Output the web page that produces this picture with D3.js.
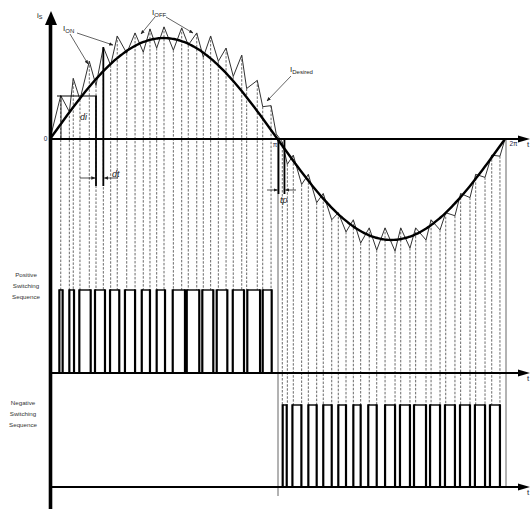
<!DOCTYPE html>
<html><head><meta charset="utf-8">
<script src="https://cdn.jsdelivr.net/npm/d3@7"></script>
<style>body{margin:0;background:#fff}svg{display:block}</style>
</head><body>
<script>
// Hysteresis current vertices: electrical angle (deg) and per-unit current
const zigAngle = [0, 8.5, 15.3, 18.4, 23.7, 31.1, 36.4, 42.2, 48.0, 53.2, 60.7, 67.3, 73.8, 79.1, 84.4, 90.2,
  97.6, 104.2, 109.4, 116.1, 121.3, 127.1, 133.2, 139.3, 145.0, 151.7, 155.6, 164.0, 168.3, 174.9, 179.0,
  183.8, 187.8, 192.5, 199.1, 204.4, 211.0, 216.2, 222.9, 228.1, 234.2, 240.0, 245.8, 252.6, 258.5, 265.1,
  273.0, 277.5, 284.8, 289.3, 297.5, 301.5, 308.6, 313.1, 320.4, 324.9, 332.3, 336.8, 344.2, 349.5, 356.0, 360];
const zigValue = [0, 0.43, 0.27, 0.60, 0.39, 0.77, 0.53, 0.91, 0.73, 1.02, 0.85, 1.05, 0.86, 1.09, 0.90, 1.11,
  0.88, 1.10, 0.93, 1.05, 0.81, 1.02, 0.77, 0.90, 0.62, 0.83, 0.50, 0.58, 0.32, 0.33, 0.05,
  -0.03, -0.25, -0.16, -0.45, -0.35, -0.63, -0.54, -0.80, -0.73, -0.92, -0.80, -1.03, -0.88, -1.10, -0.88,
  -1.11, -0.88, -1.08, -0.88, -1.00, -0.80, -0.90, -0.73, -0.76, -0.54, -0.58, -0.35, -0.38, -0.16, -0.17, 0];

// Gate pulses (deg): positive half-cycle device
const posStart = [7.4, 15.3, 23.2, 35.6, 47.5, 59.3, 72.6, 84.4, 97.1, 108.2, 120.5, 131.9, 144.6, 156.1, 168.3];
const posEnd   = [10.0, 19.0, 32.2, 43.5, 54.8, 67.3, 79.1, 91.0, 106.8, 118.1, 129.2, 140.3, 153.5, 166.2, 175.4];
// Gate pulses (deg): negative half-cycle device
const negStart = [184.1, 191.8, 204.4, 216.2, 228.1, 240.0, 251.8, 265.1, 276.9, 288.0, 300.7, 312.5, 324.4, 336.2, 348.1];
const negEnd   = [187.3, 198.9, 211.0, 222.9, 234.2, 245.8, 258.5, 273.0, 284.8, 297.5, 308.6, 320.4, 332.3, 344.2, 356.0];

const tickAngles = [0, 180, 360];
const tickLabels = ["0", "π", "2π"];

const W = 532, H = 509;
const svg = d3.select("body").append("svg").attr("width", W).attr("height", H)
  .style("font-family", "'Liberation Sans', Arial, sans-serif");

const x = d3.scaleLinear().domain([0, 360]).range([50, 505]);
const y = d3.scaleLinear().domain([-1, 1]).range([240, 38]);
const yPos = d3.scaleLinear().domain([0, 1]).range([372, 290]);
const yNeg = d3.scaleLinear().domain([0, 1]).range([486, 405]);

const defs = svg.append("defs");
defs.append("marker").attr("id", "ah").attr("viewBox", "0 0 10 10").attr("refX", 9).attr("refY", 5)
  .attr("markerWidth", 6).attr("markerHeight", 6).attr("orient", "auto")
  .append("path").attr("d", "M0,1L10,5L0,9Z").attr("fill", "#222");

const verts = zigAngle.map((a, i) => ({a, v: zigValue[i]}));

// drop lines from each current vertex to its gate sequence
const drops = svg.append("g").attr("stroke", "#444").attr("stroke-width", 0.8).attr("stroke-dasharray", "2.5,1.5");
verts.filter(d => d.a > 0 && d.a < 360 && d.a !== 179).forEach(d => {
  const bottom = d.a < 180 ? yPos(1) : yNeg(1);
  drops.append("line").attr("x1", x(d.a)).attr("x2", x(d.a)).attr("y1", y(d.v)).attr("y2", bottom);
});

// half-period markers
svg.append("line").attr("x1", x(180) + 0.5).attr("x2", x(180) + 0.5).attr("y1", y(0)).attr("y2", 496)
  .attr("stroke", "#555").attr("stroke-width", 0.9);
svg.append("line").attr("x1", x(360) + 1).attr("x2", x(360) + 1).attr("y1", y(0)).attr("y2", yNeg(0))
  .attr("stroke", "#555").attr("stroke-width", 0.9);

// hysteresis current
svg.append("path").datum(verts)
  .attr("d", d3.line().x(d => x(d.a)).y(d => y(d.v)))
  .attr("fill", "none").attr("stroke", "#333").attr("stroke-width", 1);

// reference current
const ref = d3.range(0, 361, 2).map(a => ({a, v: Math.sin(a * Math.PI / 180)}));
svg.append("path").datum(ref)
  .attr("d", d3.line().curve(d3.curveBasis).x(d => x(d.a)).y(d => y(d.v)))
  .attr("fill", "none").attr("stroke", "#000").attr("stroke-width", 2.4);

// gate pulse trains
function pulses(starts, ends, ys) {
  const g = svg.append("g");
  starts.forEach((s, i) => {
    const e = ends[i];
    g.append("line").attr("x1", x(s)).attr("x2", x(e)).attr("y1", ys(1)).attr("y2", ys(1))
      .attr("stroke", "#000").attr("stroke-width", 1.4);
    [s, e].forEach(t => g.append("line").attr("x1", x(t)).attr("x2", x(t))
      .attr("y1", ys(1) - 0.7).attr("y2", ys(0)).attr("stroke", "#000").attr("stroke-width", 2.2));
  });
}
pulses(posStart, posEnd, yPos);
pulses(negStart, negEnd, yNeg);

// time axes with arrowheads
[y(0), yPos(0) + 1, yNeg(0) + 1].forEach(yy => {
  svg.append("line").attr("x1", 50).attr("x2", 520).attr("y1", yy).attr("y2", yy)
    .attr("stroke", "#000").attr("stroke-width", 1.8);
  svg.append("path").attr("d", `M518,${yy - 3.5}L530,${yy}L518,${yy + 3.5}Z`).attr("fill", "#000");
  svg.append("text").attr("x", 527).attr("y", yy + 8).attr("font-size", 8).attr("fill", "#223")
    .text("t");
});

// angle ticks on the current axis
const ax = svg.append("g").attr("transform", `translate(0,${y(0)})`)
  .call(d3.axisBottom(x).tickValues(tickAngles).tickSize(0).tickFormat((d, i) => tickLabels[i]));
ax.select(".domain").remove();
ax.selectAll("text").attr("font-size", 6.5).attr("fill", "#224").attr("font-family", "'Liberation Sans', Arial, sans-serif")
  .attr("dy", null).attr("y", (d, i) => [2, 8, 7][i]).attr("dx", (d, i) => [-5, -3, 8][i]);

// vertical current axis
svg.append("line").attr("x1", 50.5).attr("x2", 50.5).attr("y1", 22).attr("y2", 509)
  .attr("stroke", "#000").attr("stroke-width", 3.6);
svg.append("path").attr("d", "M45,25L51,11L57,25Z").attr("fill", "#000");
const is = svg.append("text").attr("x", 37).attr("y", 18).attr("font-size", 8).attr("fill", "#222");
is.append("tspan").text("i");
is.append("tspan").attr("font-size", 5.5).attr("dy", 1).text("S");

// dimension marks: di, dt, tp
const dim = svg.append("g").attr("stroke", "#000");
dim.append("line").attr("x1", 57).attr("x2", 97).attr("y1", 96).attr("y2", 96).attr("stroke-width", 1);
dim.append("line").attr("x1", 61).attr("x2", 61).attr("y1", 96).attr("y2", 138).attr("stroke-width", 0.8);
dim.append("line").attr("x1", x(36.4)).attr("x2", x(36.4)).attr("y1", 96).attr("y2", 186).attr("stroke-width", 1.8);
dim.append("line").attr("x1", x(42.2)).attr("x2", x(42.2)).attr("y1", y(0.91)).attr("y2", 186).attr("stroke-width", 1.8);
dim.append("line").attr("x1", 80).attr("x2", x(36.4) - 1).attr("y1", 178).attr("y2", 178)
  .attr("stroke-width", 0.7).attr("marker-end", "url(#ah)");
dim.append("line").attr("x1", 118).attr("x2", x(42.2) + 1).attr("y1", 178).attr("y2", 178)
  .attr("stroke-width", 0.7).attr("marker-end", "url(#ah)");
dim.append("line").attr("x1", x(180) + 1).attr("x2", x(180) + 1).attr("y1", 139).attr("y2", 194).attr("stroke-width", 1.8);
dim.append("line").attr("x1", x(185.5)).attr("x2", x(185.5)).attr("y1", 139).attr("y2", 194).attr("stroke-width", 1.8);
dim.append("line").attr("x1", 267).attr("x2", x(180)).attr("y1", 190).attr("y2", 190)
  .attr("stroke-width", 0.7).attr("marker-end", "url(#ah)");
dim.append("line").attr("x1", 296).attr("x2", x(185.5) + 1).attr("y1", 190).attr("y2", 190)
  .attr("stroke-width", 0.7).attr("marker-end", "url(#ah)");

const ital = (tx, ty, s) => svg.append("text").attr("x", tx).attr("y", ty).attr("font-size", 9)
  .attr("font-style", "italic").attr("fill", "#222").text(s);
ital(80, 120, "di");
ital(112, 177, "dt");
ital(280, 203, "tp");

// callout labels
function callout(tx, ty, main, sub, arrows) {
  const t = svg.append("text").attr("x", tx).attr("y", ty).attr("font-size", 8).attr("fill", "#222");
  t.append("tspan").text(main);
  t.append("tspan").attr("font-size", 6).attr("dy", 1.5).text(sub);
  arrows.forEach(([x1, y1, x2, y2]) => svg.append("line").attr("x1", x1).attr("y1", y1).attr("x2", x2).attr("y2", y2)
    .attr("stroke", "#222").attr("stroke-width", 0.7).attr("marker-end", "url(#ah)"));
}
callout(63, 31, "I", "ON", [[70, 34, 88, 64], [77, 33, 113, 45]]);
callout(152, 15, "I", "OFF", [[155, 17, 141, 34], [166, 17, 193, 33]]);
callout(290, 72, "I", "Desired", [[291, 76, 267, 101]]);

// side captions of the gate sequences
function caption(cx, cy, lines) {
  const t = svg.append("text").attr("font-size", 6.2).attr("fill", "#333").attr("text-anchor", "middle");
  lines.forEach((s, i) => t.append("tspan").attr("x", cx).attr("y", cy + i * 11).text(s));
}
caption(26, 277, ["Positive", "Switching", "Sequence"]);
caption(23, 405, ["Negative", "Switching", "Sequence"]);
</script>
</body></html>
